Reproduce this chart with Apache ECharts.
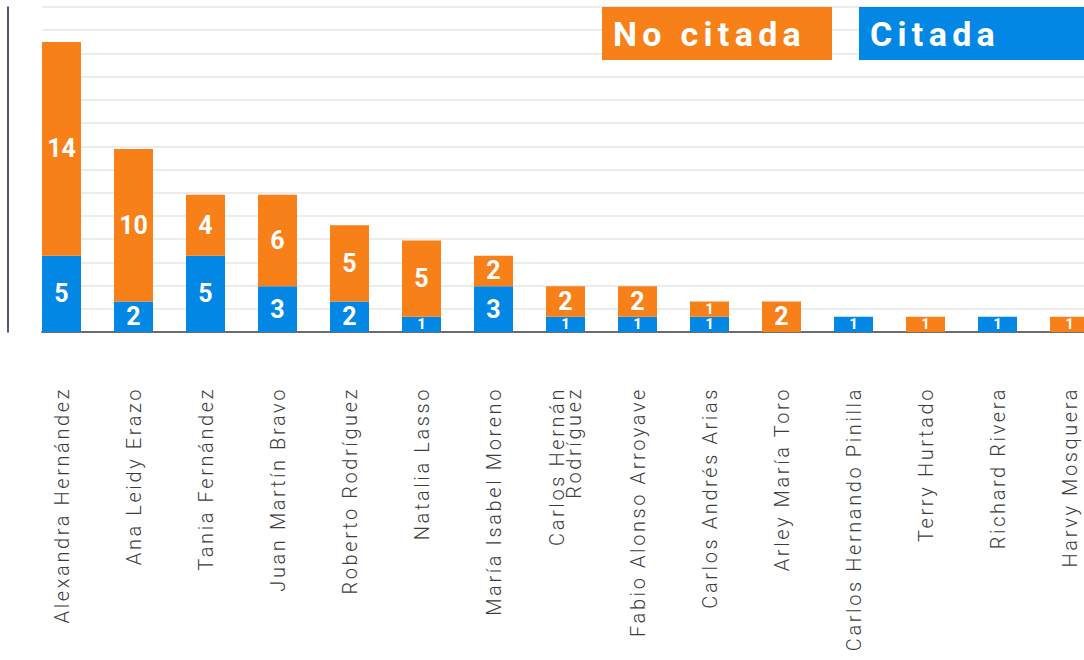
<!DOCTYPE html>
<html>
<head>
<meta charset="utf-8">
<script src="https://cdn.jsdelivr.net/npm/echarts@6/dist/echarts.min.js"></script>
<style>
  html, body { margin: 0; padding: 0; background: #fff; overflow: hidden; }
  /* the last bar is cut by the right edge in the original, so the chart is a bit wider than the page */
  #chart { width: 1106px; height: 660px; }
  /* echarts text has no letter spacing option, so the svg output gets it here */
  #chart svg text { letter-spacing: 0; }
  #chart svg text[style*="20px"] { letter-spacing: 2.6px; }
  #chart svg text[style*="34px"] { letter-spacing: 5.3px; }
</style>
</head>
<body>
<div id="chart"></div>
<script>
const categories = [
  'Alexandra Hernández', 'Ana Leidy Erazo', 'Tania Fernández', 'Juan Martín Bravo',
  'Roberto Rodríguez', 'Natalia Lasso', 'María Isabel Moreno', 'Carlos Hernán\nRodríguez',
  'Fabio Alonso Arroyave', 'Carlos Andrés Arias', 'Arley María Toro',
  'Carlos Hernando Pinilla', 'Terry Hurtado', 'Richard Rivera', 'Harvy Mosquera'
]
const citada = [5, 2, 5, 3, 2, 1, 3, 1, 1, 1, 0, 1, 0, 1, 0]
const noCitada = [14, 10, 4, 6, 5, 5, 2, 2, 2, 1, 2, 0, 1, 0, 1]

const ORANGE = '#f88019'
const BLUE = '#0287e5'

const barLabel = {
  show: true,
  position: 'inside',
  color: '#fff',
  fontFamily: 'Roboto',
  fontWeight: 'bold',
  fontSize: 25,
  formatter: (p) => {
    if (!p.value) return ''
    if (p.value === 1) return '{s|1}'
    return String(p.value)
  },
  rich: {
    s: { fontSize: 15, lineHeight: 13, fontWeight: 'bold', color: '#fff', fontFamily: 'Roboto' }
  }
}

// box of 53px: text sits a little above the middle like in the original
const legendBox = (color) => ({
  backgroundColor: color,
  color: '#fff',
  fontFamily: 'Roboto',
  fontWeight: 'bold',
  fontSize: 34,
  height: 47,
  lineHeight: 47,
  padding: [0, 0, 6, 11]
})

const chart = echarts.init(document.getElementById('chart'), null, { renderer: 'svg' })

chart.setOption({
  animation: false,
  backgroundColor: '#fff',
  legend: {
    left: 597,
    top: 7,
    width: 520,
    padding: 0,
    itemWidth: 0,
    itemHeight: 0,
    itemGap: 22,
    icon: 'none',
    selectedMode: false,
    data: [
      { name: 'No citada', textStyle: { ...legendBox(ORANGE), width: 219 } },
      { name: 'Citada', textStyle: { ...legendBox(BLUE), width: 214 } }
    ]
  },
  grid: [
    { left: 25.5, right: 0.5, top: 7, bottom: 328 },
    { left: 42, right: 22, top: 7, bottom: 328 }
  ],
  xAxis: [
    {
      type: 'category',
      gridIndex: 0,
      data: categories,
      axisLine: { show: false },
      axisTick: { show: false },
      axisLabel: {
        interval: 0,
        rotate: 90,
        margin: 55,
        fontFamily: 'Roboto',
        fontWeight: 300,
        fontSize: 20,
        lineHeight: 17,
        color: '#3c3c3c'
      }
    },
    {
      type: 'value',
      gridIndex: 1,
      min: 0,
      max: 1,
      offset: 24.5,
      axisLine: { show: true, lineStyle: { color: '#6b6b70', width: 2 } },
      axisTick: { show: false },
      axisLabel: { show: false },
      splitLine: { show: false }
    }
  ],
  yAxis: [
    {
      type: 'value',
      gridIndex: 0,
      min: 0,
      max: 21.3,
      offset: 17.5,
      axisLine: { show: true, lineStyle: { color: '#2d1b3e', width: 1.5 } },
      axisTick: { show: false },
      axisLabel: { show: false },
      splitLine: { show: false }
    },
    {
      type: 'value',
      gridIndex: 1,
      min: 0,
      max: 21,
      interval: 1.5,
      axisLine: { show: false },
      axisTick: { show: false },
      axisLabel: { show: false },
      splitLine: { show: true, lineStyle: { color: '#e6e6e6', width: 1.5 } }
    }
  ],
  series: [
    {
      name: 'Citada',
      type: 'bar',
      stack: 'total',
      xAxisIndex: 0,
      yAxisIndex: 0,
      barWidth: 39,
      itemStyle: { color: BLUE },
      label: barLabel,
      data: citada
    },
    {
      name: 'No citada',
      type: 'bar',
      stack: 'total',
      xAxisIndex: 0,
      yAxisIndex: 0,
      barWidth: 39,
      itemStyle: { color: ORANGE },
      label: barLabel,
      data: noCitada
    }
  ]
})
</script>
</body>
</html>
